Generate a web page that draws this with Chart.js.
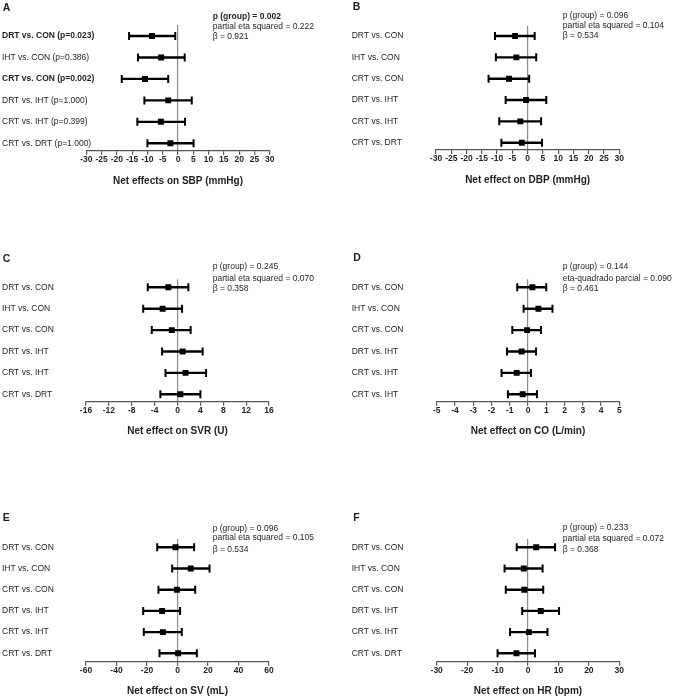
<!DOCTYPE html>
<html><head><meta charset="utf-8">
<script src="https://cdn.jsdelivr.net/npm/chart.js@4.4.1/dist/chart.umd.min.js"></script>
<style>
html,body{margin:0;padding:0;background:#fff;}
#page{position:relative;width:673px;height:699px;overflow:hidden;font-family:"Liberation Sans",Arial,sans-serif;color:#1e1e1e;}
#page canvas{position:absolute;}
.t{position:absolute;white-space:nowrap;font-size:8.5px;line-height:10px;}
.L{position:absolute;font-weight:bold;font-size:10.5px;line-height:12px;}
</style></head><body><div id="page"></div>
<script>
const FONT = '"Liberation Sans", Arial, sans-serif';

// Row labels
const comparisons = ['DRT vs. CON','IHT vs. CON','CRT vs. CON','DRT vs. IHT','CRT vs. IHT','CRT vs. DRT'];
const sbpLabels = ['DRT vs. CON (p=0.023)','IHT vs. CON (p=0.386)','CRT vs. CON (p=0.002)','DRT vs. IHT (p=1.000)','CRT vs. IHT (p=0.399)','CRT vs. DRT (p=1.000)'];
const sbpBold = [true,false,true,false,false,false];
const coLabels = ['DRT vs. CON','IHT vs. CON','CRT vs. CON','DRT vs. IHT','CRT vs. IHT','CRT vs. IHT'];

// Values: mean and 95% CI
const sbpMean = [-8.5,-5.5,-10.8,-3.2,-5.6,-2.5];
const sbpLow  = [-16.0,-13.1,-18.4,-11.0,-13.3,-10.0];
const sbpHigh = [-0.9,2.2,-3.2,4.5,2.3,5.1];

const dbpMean = [-4.1,-3.7,-6.1,-0.5,-2.4,-1.9];
const dbpLow  = [-10.7,-10.4,-12.8,-7.2,-9.3,-8.6];
const dbpHigh = [2.3,2.8,0.5,6.1,4.4,4.7];

const svrMean = [-1.6,-2.6,-1.0,0.9,1.4,0.5];
const svrLow  = [-5.2,-6.0,-4.5,-2.7,-2.1,-3.0];
const svrHigh = [1.9,0.8,2.3,4.4,5.0,4.0];

const coMean = [0.24,0.57,-0.05,-0.35,-0.62,-0.29];
const coLow  = [-0.59,-0.24,-0.86,-1.15,-1.45,-1.10];
const coHigh = [1.00,1.34,0.71,0.44,0.16,0.49];

const svMean = [-1.3,8.7,-0.4,-10.1,-9.6,0.4];
const svLow  = [-13.3,-3.5,-12.5,-22.5,-22.1,-11.8];
const svHigh = [10.9,21.0,11.6,1.7,2.8,12.7];

const hrMean = [2.7,-1.4,-1.2,4.2,0.3,-3.8];
const hrLow  = [-3.7,-7.7,-7.3,-1.9,-5.9,-10.0];
const hrHigh = [8.9,4.8,5.0,10.2,6.4,2.3];

// Axis ranges [min, max, step]
const sbpAxis = [-30,30,5];
const dbpAxis = [-30,30,5];
const svrAxis = [-16,16,4];
const coAxis  = [-5,5,1];
const svAxis  = [-60,60,20];
const hrAxis  = [-30,30,10];

const titles = ['Net effects on SBP (mmHg)','Net effect on DBP (mmHg)','Net effect on SVR (U)','Net effect on CO (L/min)','Net effect on SV (mL)','Net effect on HR (bpm)'];
const statsA = ['p (group) = 0.002','partial eta squared = 0.222','\u03b2 = 0.921'];
const statsB = ['p (group) = 0.096','partial eta squared = 0.104','\u03b2 = 0.534'];
const statsC = ['p (group) = 0.245','partial eta squared = 0.070','\u03b2 = 0.358'];
const statsD = ['p (group) = 0.144','eta-quadrado parcial = 0.090','\u03b2 = 0.461'];
const statsE = ['p (group) = 0.096','partial eta squared = 0.105','\u03b2 = 0.534'];
const statsF = ['p (group) = 0.233','partial eta squared = 0.072','\u03b2 = 0.368'];

const panels = [
 {key:'A', labels:sbpLabels, bold:sbpBold, mean:sbpMean, low:sbpLow, high:sbpHigh, axis:sbpAxis, title:titles[0], stats:statsA, statsBold:true,
  left:0, top:0, w:336, h:200, labelX:2, plotL:86.3, plotR:269.7, plotT:25, plotB:150.7, titleY:181, yMin:0.487, yMax:6.345,
  letter:[2.7,6.7], statX:212.7, statY:[15.7,25.7,36]},
 {key:'B', labels:comparisons, mean:dbpMean, low:dbpLow, high:dbpHigh, axis:dbpAxis, title:titles[1], stats:statsB,
  left:336, top:0, w:337, h:200, labelX:351.7, plotL:436, plotR:619.3, plotT:26, plotB:150, titleY:180.3, yMin:0.531, yMax:6.342,
  letter:[352.7,6], statX:562.7, statY:[15,25.3,35.3]},
 {key:'C', labels:comparisons, mean:svrMean, low:svrLow, high:svrHigh, axis:svrAxis, title:titles[2], stats:statsC,
  left:0, top:230, w:336, h:215, labelX:2, plotL:86, plotR:269, plotT:279.3, plotB:401.7, titleY:431.7, yMin:0.626, yMax:6.346,
  letter:[2.7,258.3], statX:212.7, statY:[266,277.7,288.3]},
 {key:'D', labels:coLabels, mean:coMean, low:coLow, high:coHigh, axis:coAxis, title:titles[3], stats:statsD,
  left:336, top:230, w:337, h:215, labelX:351.7, plotL:436.7, plotR:619.3, plotT:279.3, plotB:401.7, titleY:431.7, yMin:0.626, yMax:6.346,
  letter:[353.3,256.7], statX:562.7, statY:[266,277.7,288.3]},
 {key:'E', labels:comparisons, mean:svMean, low:svLow, high:svHigh, axis:svAxis, title:titles[4], stats:statsE,
  left:0, top:460, w:336, h:239, labelX:2, plotL:86, plotR:269, plotT:539, plotB:661.7, titleY:691, yMin:0.608, yMax:6.396,
  letter:[2.7,516.7], statX:212.7, statY:[527.7,537.3,548.7]},
 {key:'F', labels:comparisons, mean:hrMean, low:hrLow, high:hrHigh, axis:hrAxis, title:titles[5], stats:statsF,
  left:336, top:460, w:337, h:239, labelX:351.7, plotL:436.7, plotR:619.3, plotT:539, plotB:661.7, titleY:691, yMin:0.608, yMax:6.396,
  letter:[353.3,517.3], statX:562.7, statY:[527.3,537.7,548.7]}
];

const page = document.getElementById('page');

function addText(cls, text, x, cy, lh, bold) {
  const d = document.createElement('div');
  d.className = cls;
  d.textContent = text;
  d.style.left = x + 'px';
  d.style.top = (cy - lh / 2) + 'px';
  if (bold) d.style.fontWeight = 'bold';
  page.appendChild(d);
}

function makePanel(p) {
  const canvas = document.createElement('canvas');
  canvas.width = p.w; canvas.height = p.h;
  canvas.style.left = p.left + 'px'; canvas.style.top = p.top + 'px';
  canvas.style.width = p.w + 'px'; canvas.style.height = p.h + 'px';
  page.appendChild(canvas);

  const rows = p.labels.map((_, i) => i + 1);
  const datasets = [];
  datasets.push({
    data: rows.map((r, i) => ({x: p.mean[i], y: r})),
    pointStyle: 'rect', pointRadius: 4.2, pointBackgroundColor: '#000', pointBorderColor: '#000', pointBorderWidth: 0, showLine: false
  });
  datasets.push({
    data: rows.flatMap((r, i) => [{x: p.low[i], y: r}, {x: p.high[i], y: r}]),
    pointStyle: 'line', pointRotation: 90, pointRadius: 4, pointBorderColor: '#000', pointBorderWidth: 2, showLine: false
  });
  rows.forEach((r, i) => datasets.push({
    data: [{x: p.low[i], y: r}, {x: p.high[i], y: r}],
    showLine: true, borderColor: '#000', borderWidth: 2.4, pointRadius: 0
  }));

  const titleFontSize = 10;
  const padB = p.h - (p.titleY - p.top) - titleFontSize * 1.2 / 2;
  const yWidth = p.plotL - p.labelX;

  new Chart(canvas, {
    type: 'scatter',
    data: {datasets},
    options: {
      responsive: false, animation: false, devicePixelRatio: 1,
      layout: {padding: {left: p.labelX - p.left, top: p.plotT - p.top, right: p.left + p.w - p.plotR, bottom: 0}},
      plugins: {legend: {display: false}, tooltip: {enabled: false}},
      scales: {
        x: {
          type: 'linear', min: p.axis[0], max: p.axis[1],
          afterFit: ax => { ax.height = p.h - (p.plotB - p.top); },
          ticks: {stepSize: p.axis[2], autoSkip: false, maxRotation: 0, padding: 0, color: '#1e1e1e',
                  font: {family: FONT, size: 8.5, weight: 'bold'}},
          grid: {color: c => (c.tick && c.tick.value === 0) ? '#8a8a8a' : 'rgba(0,0,0,0)', lineWidth: 1.2,
                 tickColor: '#555', tickLength: 4, drawTicks: true},
          border: {color: '#555', width: 1.2},
          title: {display: true, text: p.title, color: '#1e1e1e', font: {family: FONT, size: titleFontSize, weight: 'bold'},
                  padding: {top: 0, bottom: padB}}
        },
        y: {
          type: 'linear', reverse: true, min: p.yMin, max: p.yMax,
          afterBuildTicks: ax => { ax.ticks = rows.map(v => ({value: v})); },
          afterFit: ax => { ax.width = yWidth; },
          grid: {display: false}, border: {display: false},
          ticks: {mirror: true, crossAlign: 'near', autoSkip: false, padding: -yWidth, color: '#1e1e1e',
                  callback: v => p.labels[Math.round(v) - 1],
                  font: c => ({family: FONT, size: 8.5,
                    weight: (p.bold && c.tick && p.bold[Math.round(c.tick.value) - 1]) ? 'bold' : 'normal'})}
        }
      }
    }
  });

  addText('L', p.key, p.letter[0], p.letter[1], 12, true);
  p.stats.forEach((s, i) => addText('t', s, p.statX, p.statY[i], 10, p.statsBold && i === 0));
}

panels.forEach(makePanel);
</script>
</body></html>
